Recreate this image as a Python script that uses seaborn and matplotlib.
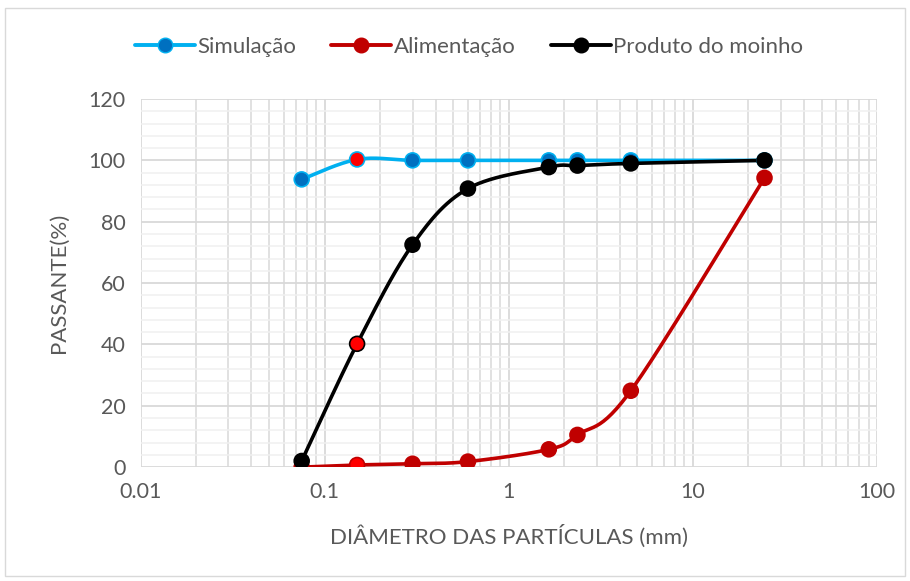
import numpy as np
import pandas as pd
import matplotlib
matplotlib.use("Agg")
import matplotlib.pyplot as plt
import matplotlib.ticker as mticker
from matplotlib.patches import Rectangle
import seaborn as sns

# sieve openings (mm) and % passing
diametro = [0.075, 0.15, 0.3, 0.6, 1.65, 2.36, 4.6, 24.5]
simulacao = [93.8, 100.3, 100.0, 100.0, 100.0, 100.0, 100.0, 100.0]
alimentacao = [0.0, 0.7, 1.1, 1.8, 5.8, 10.5, 24.9, 94.3]
produto = [2.0, 40.2, 72.5, 90.8, 97.8, 98.3, 99.0, 100.0]


def smooth(x, y, n=30):
    # Excel-like smoothed line: bezier through points, computed in log-x space
    lx = np.log10(x)
    y = np.asarray(y, dtype=float)
    px = np.concatenate([[lx[0]], lx, [lx[-1]]])
    py = np.concatenate([[y[0]], y, [y[-1]]])
    xs, ys = [], []
    t = np.linspace(0, 1, n)
    for i in range(1, len(px) - 2):
        p0 = np.array([px[i], py[i]])
        p3 = np.array([px[i + 1], py[i + 1]])
        c1 = p0 + (np.array([px[i + 1], py[i + 1]]) - np.array([px[i - 1], py[i - 1]])) / 6
        c2 = p3 - (np.array([px[i + 2], py[i + 2]]) - np.array([px[i], py[i]])) / 6
        b = ((1 - t) ** 3)[:, None] * p0 + (3 * (1 - t) ** 2 * t)[:, None] * c1 \
            + (3 * (1 - t) * t ** 2)[:, None] * c2 + (t ** 3)[:, None] * p3
        xs.extend(b[:, 0])
        ys.extend(b[:, 1])
    return 10 ** np.array(xs), np.array(ys)


sns.set_theme(style="white")
plt.rcParams['font.family'] = ['Lato', 'DejaVu Sans']
txt = '#595959'

fig = plt.figure(figsize=(9.1, 5.81), dpi=100)
ax = fig.add_axes([0.1545, 0.196, 0.8092, 0.6336])
fig.patches.append(Rectangle((0.006, 0.008), 0.988, 0.978, transform=fig.transFigure,
                             fill=False, edgecolor='#D9D9D9', linewidth=1))

series = [
    ('Simulação', simulacao, '#00B0F0', '#0070C0', '#00B0F0'),
    ('Alimentação', alimentacao, '#C00000', '#C00000', '#C00000'),
    ('Produto do moinho', produto, '#000000', '#000000', '#000000'),
]
for name, vals, lc, fc, ec in series:
    sx, sy = smooth(diametro, vals)
    sns.lineplot(x=sx, y=sy, ax=ax, color=lc, linewidth=2.6, sort=False,
                 estimator=None, zorder=3)
    fills = [fc] * len(vals)
    fills[1] = '#FF0000'
    ax.scatter(diametro, vals, s=115, c=fills, edgecolors=ec, linewidths=1.2, zorder=4)
    ax.plot([], [], color=lc, linewidth=2.8, marker='o', markersize=10.5,
            markerfacecolor=fc, markeredgecolor=ec, label=name)

ax.set_xscale('log')
ax.set_xlim(0.01, 100)
ax.set_ylim(0, 120)
ax.xaxis.set_major_locator(mticker.LogLocator(base=10))
ax.xaxis.set_minor_locator(mticker.LogLocator(base=10, subs=np.arange(2, 10)))
ax.xaxis.set_major_formatter(mticker.FuncFormatter(lambda v, p: '{:g}'.format(v)))
ax.xaxis.set_minor_formatter(mticker.NullFormatter())
ax.yaxis.set_major_locator(mticker.MultipleLocator(20))
ax.yaxis.set_minor_locator(mticker.MultipleLocator(4))

ax.grid(True, which='major', color='#D9D9D9', linewidth=1.3)
ax.grid(True, which='minor', axis='x', color='#D9D9D9', linewidth=1.1)
ax.grid(True, which='minor', axis='y', color='#F0F0F0', linewidth=1.1)
ax.set_axisbelow(True)
for s in ax.spines.values():
    s.set_visible(False)
ax.tick_params(which='both', length=0, labelsize=15.5, colors=txt, pad=11)

ax.set_xlabel('DIÂMETRO DAS PARTÍCULAS (mm)', fontsize=16, color=txt, labelpad=16)
ax.set_ylabel('PASSANTE(%)', fontsize=16, color=txt, labelpad=14)

ax.legend(loc='lower center', bbox_to_anchor=(0.446, 1.06), ncol=3, frameon=False,
          fontsize=16, labelcolor=txt, handlelength=2.7, handletextpad=0.1,
          columnspacing=1.6)

fig.savefig('out.png', dpi=100)
